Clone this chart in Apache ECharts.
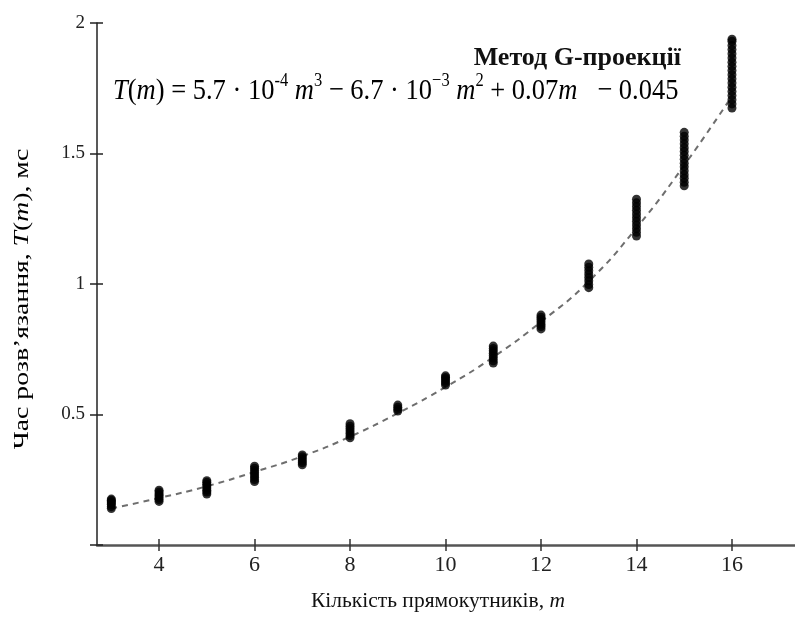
<!DOCTYPE html>
<html>
<head>
<meta charset="utf-8">
<script src="https://cdn.jsdelivr.net/npm/echarts@6/dist/echarts.min.js"></script>
<style>
  html, body { margin: 0; padding: 0; background: #fff; }
  #chart { width: 795px; height: 624px; }
</style>
</head>
<body>
<div id="chart"></div>
<script>
// ---- data ----
const categories = [3, 4, 5, 6, 7, 8, 9, 10, 11, 12, 13, 14, 15, 16];

const measured = [
  [0.140, 0.147, 0.155, 0.161, 0.166, 0.171, 0.176],
  [0.167, 0.174, 0.182, 0.189, 0.195, 0.203, 0.210],
  [0.195, 0.203, 0.210, 0.218, 0.226, 0.233, 0.240, 0.246],
  [0.243, 0.251, 0.260, 0.268, 0.277, 0.285, 0.294, 0.302],
  [0.307, 0.315, 0.322, 0.330, 0.338, 0.345],
  [0.411, 0.419, 0.428, 0.437, 0.446, 0.455, 0.465],
  [0.513, 0.520, 0.528, 0.536],
  [0.613, 0.621, 0.628, 0.636, 0.642, 0.648],
  [0.697, 0.706, 0.716, 0.725, 0.735, 0.744, 0.753, 0.762],
  [0.828, 0.837, 0.846, 0.855, 0.864, 0.873, 0.881],
  [0.986, 0.998, 1.012, 1.025, 1.038, 1.051, 1.064, 1.077],
  [1.184, 1.198, 1.212, 1.226, 1.240, 1.254, 1.268, 1.283, 1.297, 1.311, 1.325],
  [1.376, 1.390, 1.405, 1.419, 1.434, 1.449, 1.463, 1.478, 1.493, 1.508, 1.522, 1.537, 1.552, 1.566, 1.581],
  [1.674, 1.690, 1.706, 1.722, 1.738, 1.754, 1.770, 1.786, 1.802, 1.818, 1.834, 1.850, 1.866, 1.882, 1.898, 1.914, 1.930, 1.938]
];

const trendValues = [0.140, 0.180, 0.225, 0.280, 0.340, 0.415, 0.505, 0.605, 0.720, 0.855, 1.010, 1.215, 1.455, 1.720];

const xTickValues = [4, 6, 8, 10, 12, 14, 16];
const yTickValues = [0, 0.5, 1, 1.5, 2];
const yLabelValues = [0.5, 1, 1.5, 2];

const titleText = 'Метод G-проекції';
const xName = 'Кількість прямокутників, ';
const yNameParts = ['Час розв’язання, ', 'T', '(', 'm', '), мс'];

// ---- build series data ----
const scatterData = [];
categories.forEach((m, i) => {
  measured[i].forEach(v => scatterData.push([m, v]));
});
const trendData = categories.map((m, i) => [m, trendValues[i]]);

const serif = '"Liberation Serif", "Times New Roman", serif';

const chart = echarts.init(document.getElementById('chart'), null, { renderer: 'canvas' });

const xBase = {
  type: 'value', min: 2.7, max: 17.32, position: 'bottom',
  splitLine: { show: false }
};
const yBase = {
  type: 'value', min: 0, max: 2, position: 'left',
  splitLine: { show: false }
};

chart.setOption({
  backgroundColor: '#ffffff',
  animation: false,
  grid: { left: 97, right: 0, top: 23, bottom: 79, containLabel: false },
  xAxis: [
    Object.assign({}, xBase, {
      axisLine: { show: true, lineStyle: { color: '#555', width: 2.5 } },
      axisTick: { show: true, customValues: xTickValues, length: 6, lineStyle: { color: '#333', width: 1.5 } },
      axisLabel: { show: true, customValues: xTickValues, margin: 9, fontFamily: serif, fontSize: 22, color: '#222' },
      name: '{a|' + xName + '}{i|m}',
      nameLocation: 'middle',
      nameGap: 45,
      nameTextStyle: {
        padding: [0, 16, 0, 0],
        rich: {
          a: { fontFamily: serif, fontSize: 21.5, color: '#111' },
          i: { fontFamily: serif, fontSize: 21.5, fontStyle: 'italic', color: '#111' }
        }
      }
    }),
    Object.assign({}, xBase, {
      axisLine: { show: false },
      axisTick: { show: true, inside: true, customValues: xTickValues, length: 6, lineStyle: { color: '#333', width: 1.5 } },
      axisLabel: { show: false }
    })
  ],
  yAxis: [
    Object.assign({}, yBase, {
      axisLine: { show: true, lineStyle: { color: '#222', width: 1.5 } },
      axisTick: { show: true, customValues: yTickValues, length: 7, lineStyle: { color: '#222', width: 1.5 } },
      axisLabel: { show: true, customValues: yLabelValues, margin: 12, fontFamily: serif, fontSize: 19, color: '#222',
                   formatter: v => String(v) }
    }),
    Object.assign({}, yBase, {
      axisLine: { show: false },
      axisTick: { show: true, inside: true, customValues: yTickValues, length: 6, lineStyle: { color: '#222', width: 1.5 } },
      axisLabel: { show: false }
    })
  ],
  series: [
    {
      type: 'line',
      data: trendData,
      xAxisIndex: 0, yAxisIndex: 0,
      smooth: true,
      showSymbol: false,
      lineStyle: { color: '#6e6e6e', width: 2, type: [6, 5] },
      z: 1
    },
    {
      type: 'scatter',
      data: scatterData,
      xAxisIndex: 0, yAxisIndex: 0,
      symbol: 'circle',
      symbolSize: 9,
      itemStyle: { color: '#000' },
      z: 2
    }
  ],
  graphic: [
    {
      type: 'text', x: 681, y: 58,
      style: { text: titleText, font: 'bold 26px ' + serif, fill: '#111', align: 'right', verticalAlign: 'middle' }
    },
    {
      type: 'text', x: 113, y: 91, scaleY: 1.15,
      style: {
        align: 'left', verticalAlign: 'middle',
        text: '{i|T}{n|(}{i|m}{n|) = 5.7 · 10}{s|-4}{i| m}{s|3}{n| − 6.7 · 10}{s|−3}{i| m}{s|2}{n| + 0.07}{i|m}{n|   − 0.045}',
        rich: {
          n: { fontFamily: serif, fontSize: 26.5, color: '#111', lineHeight: 34 },
          i: { fontFamily: serif, fontSize: 26.5, fontStyle: 'italic', color: '#111', lineHeight: 34 },
          s: { fontFamily: serif, fontSize: 16.5, color: '#111', verticalAlign: 'top', lineHeight: 34 }
        }
      }
    },
    {
      type: 'text', x: 22, y: 299, rotation: Math.PI / 2, scaleX: 1.32,
      style: {
        align: 'center', verticalAlign: 'middle',
        text: '{a|' + yNameParts[0] + '}{i|' + yNameParts[1] + '}{a|' + yNameParts[2] + '}{i|' + yNameParts[3] + '}{a|' + yNameParts[4] + '}',
        rich: {
          a: { fontFamily: serif, fontSize: 21, color: '#111' },
          i: { fontFamily: serif, fontSize: 21, fontStyle: 'italic', color: '#111' }
        }
      }
    }
  ]
});
</script>
</body>
</html>
